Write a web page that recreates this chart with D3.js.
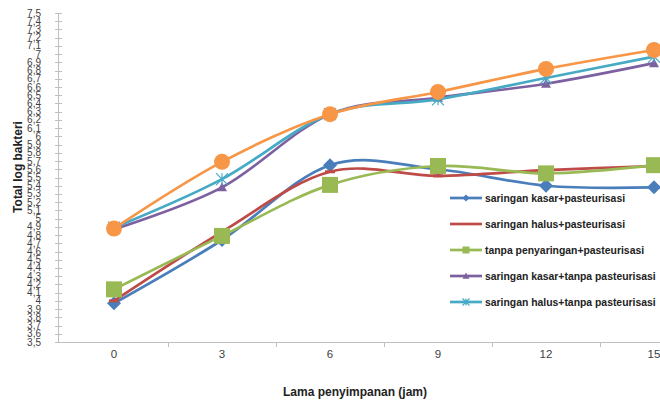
<!DOCTYPE html>
<html><head><meta charset="utf-8">
<script src="https://cdn.jsdelivr.net/npm/d3@7"></script>
<style>body{margin:0;background:#fff}svg{display:block}</style>
</head><body><svg id="c" width="660" height="403"></svg>
<script>
const categories = ["0","3","6","9","12","15"];
const seriesNames = ["saringan kasar+pasteurisasi","saringan halus+pasteurisasi","tanpa penyaringan+pasteurisasi","saringan kasar+tanpa pasteurisasi","saringan halus+tanpa pasteurisasi",""];
const kasarPast  = [3.97,4.74,5.65,5.60,5.40,5.38];
const halusPast  = [4.00,4.84,5.57,5.52,5.59,5.64];
const tanpaPast  = [4.14,4.79,5.41,5.64,5.55,5.65];
const kasarTanpa = [4.87,5.38,6.27,6.47,6.64,6.89];
const halusTanpa = [4.89,5.48,6.27,6.45,6.71,6.97];
const orangeSer  = [4.88,5.69,6.27,6.54,6.82,7.05];
const yTicks = d3.range(35,76).map(v=>v/10);
const colors = ["#4a7ebb","#be4b48","#98b954","#7d60a0","#46aac5","#f79646"];
const markers = ["diamond","dash","square","triangle","star","circle"];
const allSeries = [kasarPast,halusPast,tanpaPast,kasarTanpa,halusTanpa,orangeSer];

const svg = d3.select("#c");
const x = d3.scalePoint().domain(categories).range([114,654]);
const step = 108;
const y = d3.scaleLinear().domain([3.5,7.5]).range([342,13]);
const axisColor = "#bfbfbf";

// y axis
const ya = svg.append("g");
ya.append("line").attr("x1",58.5).attr("x2",58.5).attr("y1",y(7.5)).attr("y2",y(3.5)).attr("stroke",axisColor);
yTicks.forEach(t=>{
  ya.append("line").attr("x1",55).attr("x2",62).attr("y1",Math.round(y(t))+0.5).attr("y2",Math.round(y(t))+0.5).attr("stroke",axisColor);
  ya.append("text").attr("x",41).attr("y",y(t)+3.5).attr("text-anchor","end")
    .attr("font-family","Liberation Sans, Arial").attr("font-size",10).attr("fill","#404040")
    .text(String(+t.toFixed(1)).replace(".",","));
});
// x axis
const xa = svg.append("g");
xa.append("line").attr("x1",58).attr("x2",660).attr("y1",342.5).attr("y2",342.5).attr("stroke",axisColor);
categories.forEach((c,i)=>{
  const bx = x(c)+step/2;
  if(bx<660) xa.append("line").attr("x1",Math.round(bx)+0.5).attr("x2",Math.round(bx)+0.5).attr("y1",342).attr("y2",347).attr("stroke",axisColor);
  xa.append("text").attr("x",x(c)).attr("y",358).attr("text-anchor","middle")
    .attr("font-family","Liberation Sans, Arial").attr("font-size",11.5).attr("fill","#404040").text(c);
});
svg.append("text").attr("x",355).attr("y",396).attr("text-anchor","middle")
  .attr("font-family","Liberation Sans, Arial").attr("font-weight","bold").attr("font-size",12).attr("fill","#222").text("Lama penyimpanan (jam)");
svg.append("text").attr("transform","translate(22,167) rotate(-90)").attr("text-anchor","middle")
  .attr("font-family","Liberation Sans, Arial").attr("font-weight","bold").attr("font-size",12).attr("fill","#222").text("Total log bakteri");

function drawMarker(g,type,cx,cy,col,s){
  if(type==="diamond") g.append("path").attr("d",`M${cx},${cy-s}L${cx+s},${cy}L${cx},${cy+s}L${cx-s},${cy}Z`).attr("fill",col);
  else if(type==="square") g.append("rect").attr("x",cx-s).attr("y",cy-s).attr("width",2*s).attr("height",2*s).attr("fill",col);
  else if(type==="triangle") g.append("path").attr("d",`M${cx},${cy-s}L${cx+s},${cy+s*0.8}L${cx-s},${cy+s*0.8}Z`).attr("fill",col);
  else if(type==="circle") g.append("circle").attr("cx",cx).attr("cy",cy).attr("r",s).attr("fill",col);
  else if(type==="star"){
    g.append("path").attr("d",`M${cx-s},${cy-s}L${cx+s},${cy+s}M${cx+s},${cy-s}L${cx-s},${cy+s}M${cx},${cy-s}L${cx},${cy+s}`).attr("stroke",col).attr("stroke-width",1.2).attr("fill","none");
  }
  else if(type==="dash") g.append("rect").attr("x",cx-s).attr("y",cy-1.5).attr("width",2*s).attr("height",3).attr("fill",col);
}
const markerSize = [7,5,8,5,6,8];
const line = d3.line().x((d,i)=>x(categories[i])).y(d=>y(d)).curve(d3.curveCatmullRom.alpha(0));
const plot = svg.append("g");
allSeries.forEach((s,k)=>{
  const g = plot.append("g");
  g.append("path").attr("d",line(s)).attr("fill","none").attr("stroke",colors[k]).attr("stroke-width",2.7).attr("stroke-linejoin","round");
  s.forEach((v,i)=>drawMarker(g,markers[k],x(categories[i]),y(v),colors[k],markerSize[k]));
});

// legend
const legY = [198,224,250,276,302];
const lg = svg.append("g");
seriesNames.slice(0,5).forEach((n,k)=>{
  lg.append("line").attr("x1",450).attr("x2",482).attr("y1",legY[k]).attr("y2",legY[k]).attr("stroke",colors[k]).attr("stroke-width",2.7);
  drawMarker(lg,markers[k],466,legY[k],colors[k],k===1?0:3.5);
  lg.append("text").attr("x",485).attr("y",legY[k]+3.5).attr("font-family","Liberation Sans, Arial")
    .attr("font-weight","bold").attr("font-size",10.4).attr("fill","#222").text(n);
});
</script></body></html>
